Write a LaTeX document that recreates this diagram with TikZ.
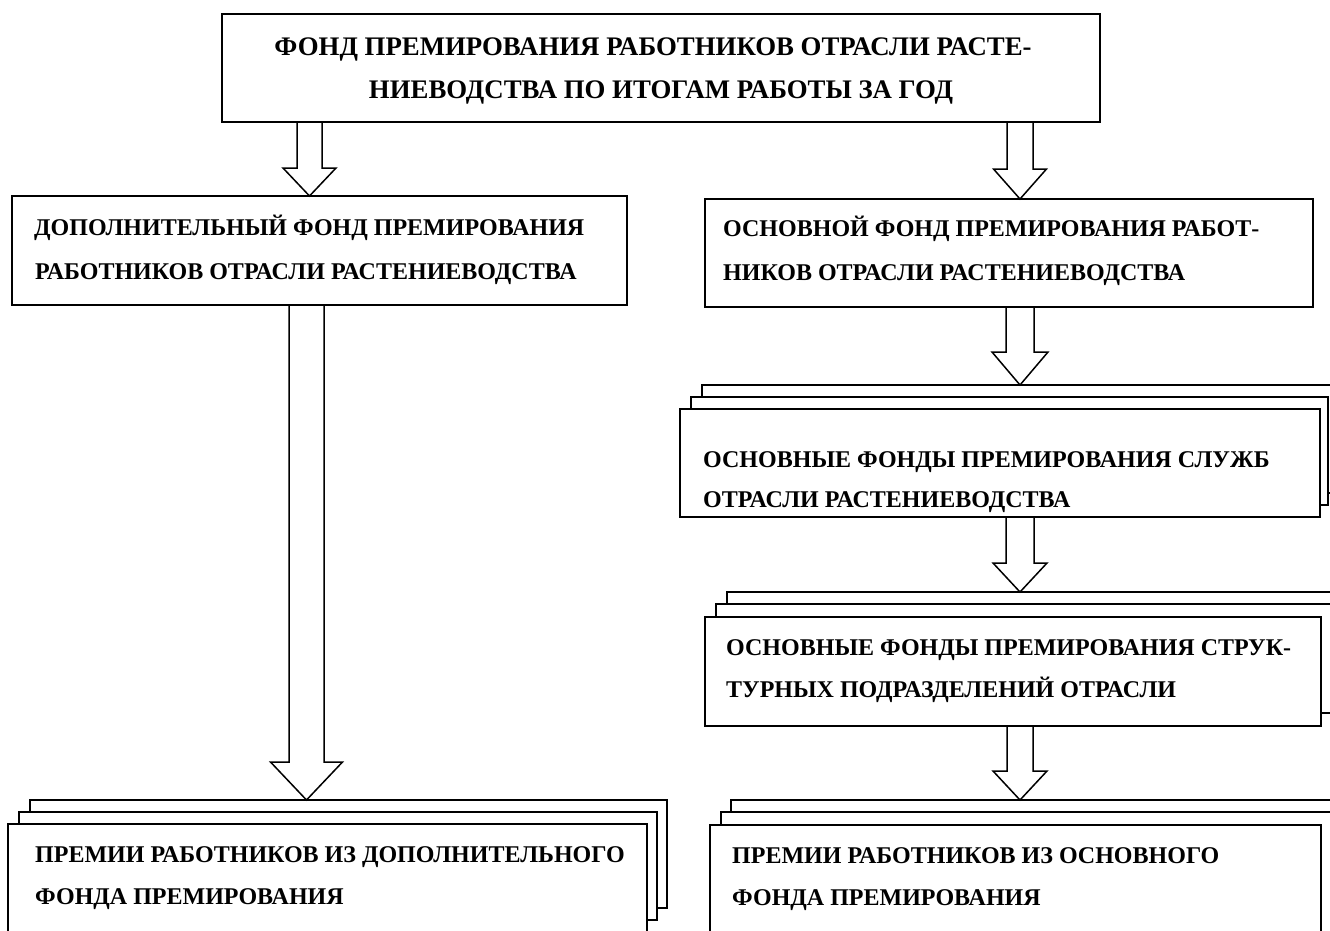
\documentclass[tikz,border=0pt]{standalone}
\usepackage{fontspec}
\setmainfont{Liberation Serif}
\usetikzlibrary{calc}
\tikzset{
  box/.style={draw, line width=1.5pt, fill=white, inner sep=0pt, outer sep=0pt, anchor=north west},
  txt/.style={font=\bfseries\fontsize{24}{28}\selectfont, inner sep=0pt, anchor=base west},
  txtc/.style={font=\bfseries\fontsize{26.8}{30}\selectfont, inner sep=0pt, anchor=base},
  arr/.style={draw, line width=1.5pt, line join=miter},
}
\newcommand\blockarr[5]{\draw[arr] ($(#1)+(-#3,0)$) -- ($(#2)+(-#3,-#5)$) -- ($(#2)+(-#4,-#5)$) -- (#2) -- ($(#2)+(#4,-#5)$) -- ($(#2)+(#3,-#5)$) -- ($(#1)+(#3,0)$);}
\begin{document}
\begin{tikzpicture}[x=1pt,y=-1pt]
\clip (0,0) rectangle (1330,931);
\fill[white] (0,0) rectangle (1330,931);
% column coordinates
\coordinate (cL1) at (309.5,0);
\coordinate (cR1) at (1020,0);
\coordinate (cL2) at (306.5,0);
\coordinate (cR2) at (1020,0);
% boxes
\node[box, minimum width=878pt, minimum height=108pt] (top) at (222,14) {};
\node[box, minimum width=615pt, minimum height=109pt] (add) at (12,196) {};
\node[box, minimum width=608pt, minimum height=108pt] (main) at (705,199) {};
% stack 1
\node[box, minimum width=645pt, minimum height=108pt] (s1b) at (702,385) {};
\node[box, minimum width=637pt, minimum height=108pt] (s1m) at (691,397) {};
\node[box, minimum width=640pt, minimum height=108pt] (s1f) at (680,409) {};
% stack 2
\node[box, minimum width=640pt, minimum height=109pt] (s2b) at (727,592) {};
\node[box, minimum width=630pt, minimum height=109pt] (s2m) at (716,604) {};
\node[box, minimum width=616pt, minimum height=109pt] (s2f) at (705,617) {};
% stack 3
\node[box, minimum width=640pt, minimum height=120pt] (s3b) at (731,800) {};
\node[box, minimum width=630pt, minimum height=120pt] (s3m) at (721,812) {};
\node[box, minimum width=611pt, minimum height=120pt] (s3f) at (710,825) {};
% left stack
\node[box, minimum width=637pt, minimum height=108pt] (lb) at (30,800) {};
\node[box, minimum width=638pt, minimum height=108pt] (lm) at (19,812) {};
\node[box, minimum width=639pt, minimum height=120pt] (lf) at (8,824) {};
% arrows
\blockarr{top.south -| cL1}{add.north -| cL1}{12.5}{26.5}{28}
\blockarr{top.south -| cR1}{main.north -| cR1}{13}{26.5}{30}
\blockarr{add.south -| cL2}{lb.north -| cL2}{17.5}{36}{38}
\blockarr{main.south -| cR2}{s1b.north -| cR2}{14}{28}{33}
\blockarr{s1f.south -| cR2}{s2b.north -| cR2}{14}{27}{29}
\blockarr{s2f.south -| cR2}{s3b.north -| cR2}{13}{27}{29}
% texts
\node[txtc] (t1a) at (653,56) {ФОНД ПРЕМИРОВАНИЯ РАБОТНИКОВ ОТРАСЛИ РАСТЕ-};
\node[txtc] (t1b) at (661,99) {НИЕВОДСТВА ПО ИТОГАМ РАБОТЫ ЗА ГОД};
\node[txt] (t2a) at (34,235) {ДОПОЛНИТЕЛЬНЫЙ ФОНД ПРЕМИРОВАНИЯ};
\node[txt] (t2b) at (35,279) {РАБОТНИКОВ ОТРАСЛИ РАСТЕНИЕВОДСТВА};
\node[txt] (t3a) at (723,236) {ОСНОВНОЙ ФОНД ПРЕМИРОВАНИЯ РАБОТ-};
\node[txt] (t3b) at (723,280) {НИКОВ ОТРАСЛИ РАСТЕНИЕВОДСТВА};
\node[txt] (t4a) at (703,467) {ОСНОВНЫЕ ФОНДЫ ПРЕМИРОВАНИЯ СЛУЖБ};
\node[txt] (t4b) at (703,507) {ОТРАСЛИ РАСТЕНИЕВОДСТВА};
\node[txt] (t5a) at (726,655) {ОСНОВНЫЕ ФОНДЫ ПРЕМИРОВАНИЯ СТРУК-};
\node[txt] (t5b) at (726,697) {ТУРНЫХ ПОДРАЗДЕЛЕНИЙ ОТРАСЛИ};
\node[txt] (t6a) at (35,862) {ПРЕМИИ РАБОТНИКОВ ИЗ ДОПОЛНИТЕЛЬНОГО};
\node[txt] (t6b) at (35,904) {ФОНДА ПРЕМИРОВАНИЯ};
\node[txt] (t7a) at (732,863) {ПРЕМИИ РАБОТНИКОВ ИЗ ОСНОВНОГО};
\node[txt] (t7b) at (732,905) {ФОНДА ПРЕМИРОВАНИЯ};
\end{tikzpicture}
\end{document}
